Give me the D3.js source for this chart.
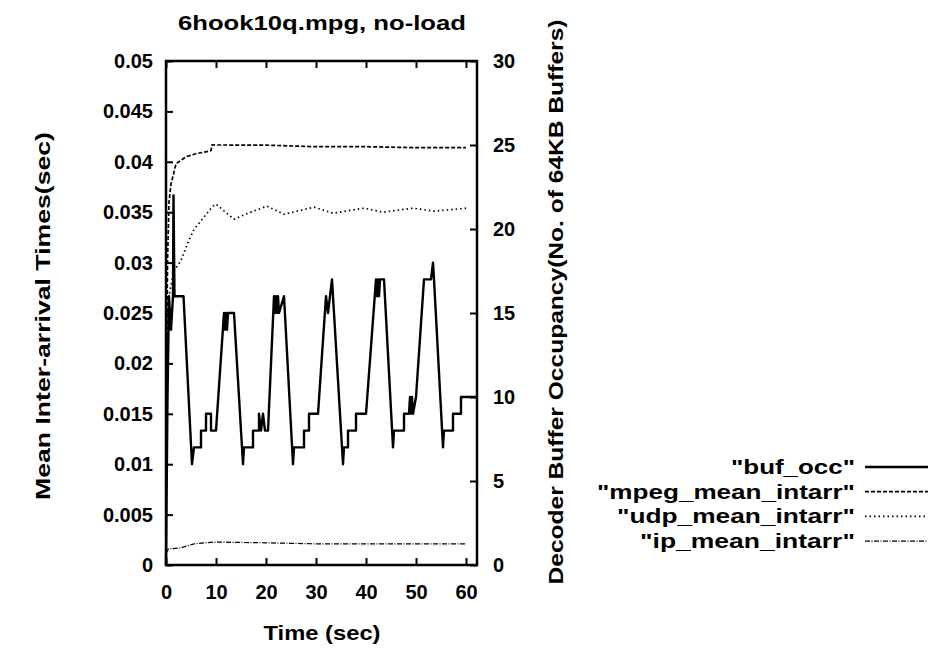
<!DOCTYPE html>
<html><head><meta charset="utf-8">
<script src="https://cdn.jsdelivr.net/npm/d3@7"></script>
<style>body{margin:0;background:#fff}svg text{font-family:"Liberation Sans",Arial,sans-serif;font-weight:bold;fill:#000}</style>
</head><body><svg id="c" width="929" height="650"></svg>
<script>
// buf_occ: [time, buffers] (right axis)
const bufT = [0,0.3,0.6,1.0,1.4,1.5,1.7,3.5,5.2,5.6,7.0,7.0,8.0,8.0,9.0,9.0,10.0,11.6,11.8,12.0,12.2,12.4,13.6,15.4,15.6,17.4,17.4,18.6,18.6,19.0,19.4,19.8,20.4,21.6,21.8,22.0,22.2,22.4,22.6,23.6,25.4,25.6,27.6,27.6,28.6,28.6,30.4,32.0,32.4,32.8,33.2,33.4,35.4,35.6,36.4,36.4,38.0,38.0,40.0,42.0,42.2,42.4,42.6,42.8,43.6,45.4,45.6,47.6,47.6,48.6,48.8,49.0,49.2,49.4,50.0,51.6,53.0,53.4,53.6,55.4,55.6,57.4,57.4,59.0,59.0,62.2];
const bufV = [0,10,16,14,16,22,16,16,6,7,7,8,8,9,9,8,8,15,14,15,14,15,15,6,7,7,8,8,9,8,9,8,8,16,15,16,15,16,15,16,6,7,7,8,8,9,9,16,15,16,17,16,6,7,7,8,8,9,9,17,16,17,16,17,17,7,8,8,9,9,10,9,10,9,10,17,17,18,17,7,8,8,9,9,10,10];
// mean inter-arrival times (left axis, sec)
const mpegT = [0,0.3,0.6,1.0,2.0,4.0,6.0,9.0,9.2,20,30,40,50,60];
const mpegV = [0.012,0.030,0.036,0.0378,0.0398,0.0405,0.0408,0.0411,0.04167,0.04165,0.0415,0.0415,0.0414,0.0414];
const udpT = [0,0.5,1.6,3.0,4.4,5.6,7.4,9.4,10.0,13.6,16.4,20.2,23.6,29.6,33.4,39.6,43.4,49.4,53.6,60];
const udpV = [0.010,0.0265,0.0292,0.0302,0.032,0.0333,0.0344,0.0356,0.0358,0.0343,0.0349,0.0356,0.0348,0.0355,0.0349,0.0354,0.035,0.0354,0.0351,0.0354];
const ipT = [0,0.5,3.0,5.6,9.6,20,30,40,50,60];
const ipV = [0.0012,0.0016,0.0017,0.0021,0.00228,0.0022,0.0021,0.0021,0.0021,0.0021];
const xTicks = [0,10,20,30,40,50,60];
const yLeftTicks = [0,0.005,0.01,0.015,0.02,0.025,0.03,0.035,0.04,0.045,0.05];
const yRightTicks = [0,5,10,15,20,25,30];
const legendNames = ['"buf_occ"','"mpeg_mean_intarr"','"udp_mean_intarr"','"ip_mean_intarr"'];

const svg = d3.select("#c");
const L=166, R=477, T=61, B=565;
const x = d3.scaleLinear().domain([0,62.2]).range([L,R]);
const yL = d3.scaleLinear().domain([0,0.05]).range([B,T]);
const yR = d3.scaleLinear().domain([0,30]).range([B,T]);

const styles = [
  {w:2.4, dash:null},
  {w:1.7, dash:"4,2"},
  {w:1.7, dash:"1.5,3"},
  {w:1.2, dash:"5,1.5,1,1.5"}
];

svg.append("rect").attr("x",L).attr("y",T).attr("width",R-L).attr("height",B-T)
  .attr("fill","none").attr("stroke","#000").attr("stroke-width",2.5);

// axes
const fs = "20px";
const gx = svg.append("g").attr("transform",`translate(0,${B})`)
  .call(d3.axisBottom(x).tickValues(xTicks).tickSize(-7).tickPadding(20).tickFormat(d3.format("d")));
const gxt = svg.append("g").attr("transform",`translate(0,${T})`)
  .call(d3.axisTop(x).tickValues(xTicks).tickSize(-7).tickFormat(""));
const gl = svg.append("g").attr("transform",`translate(${L},0)`)
  .call(d3.axisLeft(yL).tickValues(yLeftTicks).tickSize(-7).tickPadding(13).tickFormat(d=>d===0?"0":String(+d.toFixed(3))));
const gr = svg.append("g").attr("transform",`translate(${R},0)`)
  .call(d3.axisRight(yR).tickValues(yRightTicks).tickSize(-7).tickPadding(16).tickFormat(d3.format("d")));
[gx,gxt,gl,gr].forEach(g=>{
  g.select(".domain").remove();
  g.selectAll(".tick line").attr("stroke","#000").attr("stroke-width",2);
  g.selectAll(".tick text").style("font-size",fs).attr("fill","#000");
});

// lines
const lineR = d3.line().x(d=>x(d[0])).y(d=>yR(d[1]));
const lineL = d3.line().x(d=>x(d[0])).y(d=>yL(d[1]));
const series = [
  {d:d3.zip(bufT,bufV), f:lineR},
  {d:d3.zip(mpegT,mpegV), f:lineL},
  {d:d3.zip(udpT,udpV), f:lineL},
  {d:d3.zip(ipT,ipV), f:lineL}
];
series.forEach((s,i)=>{
  svg.append("path").attr("d",s.f(s.d)).attr("fill","none").attr("stroke","#000")
    .attr("stroke-width",styles[i].w).attr("stroke-dasharray",styles[i].dash)
    .attr("stroke-linejoin","round");
});

function label(sel, len){ return sel.style("font-size","21px").attr("textLength",len).attr("lengthAdjust","spacingAndGlyphs"); }
// titles
label(svg.append("text").attr("x",322).attr("y",30).attr("text-anchor","middle"),288)
  .text("6hook10q.mpg, no-load");
label(svg.append("text").attr("x",322).attr("y",640).attr("text-anchor","middle"),117)
  .text("Time (sec)");
label(svg.append("text").attr("transform","translate(50,316) rotate(-90)").attr("text-anchor","middle"),368)
  .text("Mean Inter-arrival Times(sec)");
label(svg.append("text").attr("transform","translate(563,302) rotate(-90)").attr("text-anchor","middle"),565)
  .text("Decoder Buffer Occupancy(No. of 64KB Buffers)");

// legend
const legLens = [124,258,238,215];
legendNames.forEach((n,i)=>{
  const yy = 467 + i*24.7;
  label(svg.append("text").attr("x",855).attr("y",yy+7).attr("text-anchor","end"),legLens[i]).text(n);
  svg.append("line").attr("x1",865).attr("x2",928).attr("y1",yy).attr("y2",yy)
    .attr("stroke","#000").attr("stroke-width",styles[i].w).attr("stroke-dasharray",styles[i].dash);
});
</script></body></html>
